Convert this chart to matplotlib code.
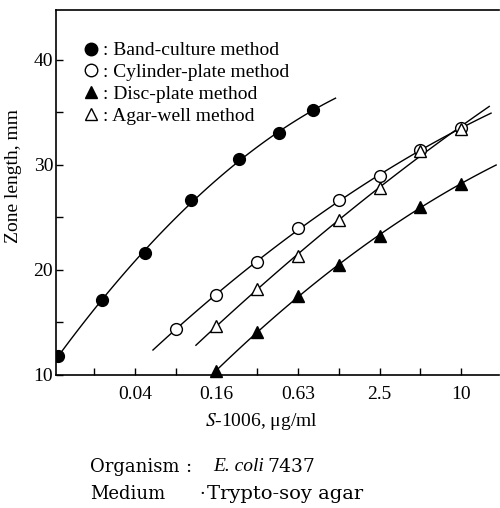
import numpy as np
import matplotlib.pyplot as plt
from matplotlib.lines import Line2D

plt.rcParams['font.family'] = ['Liberation Serif', 'DejaVu Serif']
plt.rcParams['mathtext.fontset'] = 'stix'

# concentration (ug/ml) and zone length (mm)
band_x = [0.0105, 0.0222, 0.0466, 0.101, 0.23, 0.45, 0.81]
band_y = [11.8, 17.1, 21.6, 26.6, 30.5, 33.0, 35.2]

cyl_x = [0.078, 0.156, 0.3125, 0.625, 1.25, 2.5, 5.0, 10.0]
cyl_y = [14.4, 17.6, 20.7, 24.0, 26.6, 28.9, 31.4, 33.5]

disc_x = [0.156, 0.3125, 0.625, 1.25, 2.5, 5.0, 10.0]
disc_y = [10.4, 14.1, 17.5, 20.5, 23.2, 26.0, 28.2]

well_x = [0.156, 0.3125, 0.625, 1.25, 2.5, 5.0, 10.0]
well_y = [14.7, 18.2, 21.3, 24.7, 27.8, 31.3, 33.4]

# extent of each fitted curve
band_rng = [0.0105, 1.18]
cyl_rng = [0.053, 16.6]
disc_rng = [0.15, 18.1]
well_rng = [0.11, 16.1]

xticks = [0.039, 0.156, 0.625, 2.5, 10.0]
xticklabels = ['0.04', '0.16', '0.63', '2.5', '10']
xminor = [0.0195, 0.078, 0.3125, 1.25, 5.0]

fig = plt.figure(figsize=(5.0, 5.08), dpi=100)
ax = fig.add_axes([0.112, 0.262, 0.886, 0.718])


def curve(x, y, rng, deg=2):
    p = np.polyfit(np.log2(x), y, deg)
    xs = np.logspace(np.log10(rng[0]), np.log10(rng[1]), 100)
    ax.plot(xs, np.polyval(p, np.log2(xs)), color='black', lw=1.0)


curve(band_x, band_y, band_rng)
curve(cyl_x, cyl_y, cyl_rng)
curve(disc_x, disc_y, disc_rng)
curve(well_x, well_y, well_rng)

ax.plot(band_x, band_y, 'o', ms=8.5, mfc='black', mec='black')
ax.plot(cyl_x, cyl_y, 'o', ms=8.5, mfc='white', mec='black', mew=1.0)
ax.plot(disc_x, disc_y, '^', ms=8.5, mfc='black', mec='black', clip_on=False)
ax.plot(well_x, well_y, '^', ms=8.5, mfc='white', mec='black', mew=1.0)

ax.set_xscale('log', base=2)
ax.set_xlim(0.0102, 19.0)
ax.set_ylim(10, 44.7)
ax.set_xticks(xticks)
ax.set_xticklabels(xticklabels)
ax.set_xticks(xminor, minor=True)
ax.set_yticks([10, 20, 30, 40])
ax.set_yticks([15, 25, 35], minor=True)
ax.tick_params(which='both', direction='in', length=5, width=1.0, labelsize=14)
ax.tick_params(axis='x', pad=8)
ax.tick_params(axis='y', pad=2)
ax.xaxis.set_minor_formatter(plt.NullFormatter())
ax.spines['right'].set_visible(False)
for s in ['left', 'top', 'bottom']:
    ax.spines[s].set_linewidth(1.2)

ax.set_ylabel('Zone length, mm', fontsize=14)
ax.yaxis.set_label_coords(-0.077, 0.545)
ax.set_xlabel('$\\mathit{S}$-1006, \u03bcg/ml', fontsize=14)
ax.xaxis.set_label_coords(0.463, -0.10)

handles = [
    Line2D([], [], ls='', marker='o', ms=9, mfc='black', mec='black'),
    Line2D([], [], ls='', marker='o', ms=9, mfc='white', mec='black'),
    Line2D([], [], ls='', marker='^', ms=9, mfc='black', mec='black'),
    Line2D([], [], ls='', marker='^', ms=9, mfc='white', mec='black'),
]
labels = [': Band-culture method', ': Cylinder-plate method',
          ': Disc-plate method', ': Agar-well method']
ax.legend(handles, labels, loc='upper left', bbox_to_anchor=(0.045, 0.94),
          frameon=False, fontsize=14, handlelength=0.6, handletextpad=0.3,
          labelspacing=0.22, borderpad=0)

note = dict(va='center', family=['DejaVu Serif'])
fig.text(0.18, 0.081, 'Organism', fontsize=13, **note)
fig.text(0.37, 0.081, ':', fontsize=13, **note)
fig.text(0.426, 0.081, 'E. coli', fontsize=14, style='italic', va='center',
         family=['Liberation Serif'])
fig.text(0.534, 0.081, '7437', fontsize=13.5, **note)
fig.text(0.18, 0.028, 'Medium', fontsize=13, **note)
fig.text(0.398, 0.028, '\u00b7', fontsize=13, **note)
fig.text(0.414, 0.028, 'Trypto-soy agar', fontsize=14, **note)

fig.savefig('out.png', dpi=100)
